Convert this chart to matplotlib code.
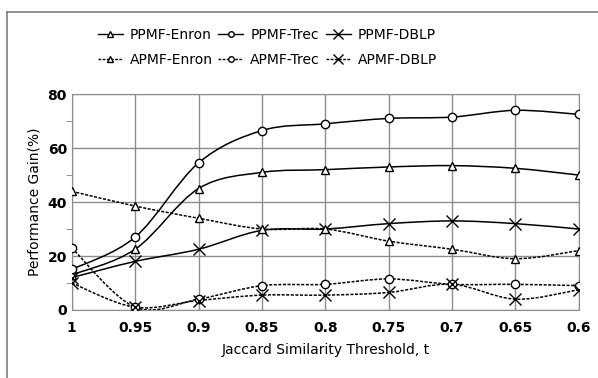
import numpy as np
import matplotlib.pyplot as plt
from matplotlib.path import Path
from matplotlib.patches import PathPatch
from matplotlib.lines import Line2D

thresholds = ['1', '0.95', '0.9', '0.85', '0.8', '0.75', '0.7', '0.65', '0.6']
ppmf_enron = [13, 22.5, 45, 51, 52, 53, 53.5, 52.5, 50]
ppmf_trec = [15, 27, 54.5, 66.5, 69, 71, 71.5, 74, 72.5]
ppmf_dblp = [12, 18, 22.5, 29.5, 30, 32, 33, 32, 30]
apmf_enron = [44, 38.5, 34, 30, 30, 25.5, 22.5, 19, 22]
apmf_trec = [23, 1, 4, 9, 9.5, 11.5, 9.5, 9.5, 9]
apmf_dblp = [10, 1, 3.5, 5.5, 5.5, 6.5, 9.5, 4, 7.5]


def smooth_path(x, y):
    # excel-style smoothed line: cubic bezier with 1/6 tangents
    pts = np.column_stack([x, y]).astype(float)
    n = len(pts)
    verts = [pts[0]]
    codes = [Path.MOVETO]
    for i in range(n - 1):
        p0 = pts[i - 1] if i > 0 else pts[i]
        p1 = pts[i]
        p2 = pts[i + 1]
        p3 = pts[i + 2] if i + 2 < n else pts[i + 1]
        c1 = p1 + (p2 - p0) / 6
        c2 = p2 - (p3 - p1) / 6
        verts += [c1, c2, p2]
        codes += [Path.CURVE4] * 3
    return Path(verts, codes)


fig = plt.figure(figsize=(5.98, 3.78), dpi=100)
# outer frame (only top and left visible in the crop)
fig.add_artist(Line2D([7 / 598, 1.0], [1 - 12 / 378] * 2, transform=fig.transFigure,
                      color='#7f7f7f', linewidth=1.2))
fig.add_artist(Line2D([7 / 598] * 2, [0, 1 - 12 / 378], transform=fig.transFigure,
                      color='#7f7f7f', linewidth=1.2))
ax = fig.add_axes([0.12, 0.18, 0.848, 0.571])

x = np.arange(len(thresholds))
dash = (0, (2, 1))
series = [
    (ppmf_enron, '^', '-', 'PPMF-Enron'),
    (ppmf_trec, 'o', '-', 'PPMF-Trec'),
    (ppmf_dblp, 'x', '-', 'PPMF-DBLP'),
    (apmf_enron, '^', dash, 'APMF-Enron'),
    (apmf_trec, 'o', dash, 'APMF-Trec'),
    (apmf_dblp, 'x', dash, 'APMF-DBLP'),
]
handles = []
for y, m, ls, lab in series:
    ax.add_patch(PathPatch(smooth_path(x, y), fill=False, edgecolor='black',
                           linewidth=1.1, linestyle=ls, zorder=3))
    ms = 9 if m == 'x' else 6
    ax.plot(x, y, linestyle='none', marker=m, markersize=ms, markerfacecolor='white',
            markeredgecolor='black', markeredgewidth=1.0, zorder=4)
    handles.append(Line2D([], [], color='black', linestyle=ls, linewidth=1.0, marker=m,
                          markersize=ms - 2, markerfacecolor='white', markeredgecolor='black',
                          label=lab))

ax.set_xlim(0, len(thresholds) - 1)
ax.set_ylim(0, 80)
ax.set_xticks(x)
ax.set_xticklabels(thresholds, fontweight='bold', fontsize=10)
ax.set_yticks([0, 20, 40, 60, 80])
ax.set_yticks([10, 30, 50, 70], minor=True)
ax.tick_params(axis='y', labelsize=10, length=0)
ax.tick_params(axis='y', which='minor', length=4, color='#7f7f7f')
ax.tick_params(axis='x', length=0, pad=8)
for t in ax.get_yticklabels():
    t.set_fontweight('bold')
ax.grid(True, color='#8c8c8c', linewidth=1.0)
ax.set_axisbelow(True)
for s in ax.spines.values():
    s.set_color('#8c8c8c')
ax.set_ylabel('Performance Gain(%)', fontsize=10)
ax.set_xlabel('Jaccard Similarity Threshold, t', fontsize=10, labelpad=6)

# legend fills column-wise: reorder so rows are PPMF / APMF
order = [0, 3, 1, 4, 2, 5]
fig.legend(handles=[handles[i] for i in order], ncol=3, loc='center',
           bbox_to_anchor=(0.447, 0.875), frameon=False, fontsize=10,
           handlelength=1.8, columnspacing=0.4, handletextpad=0.5, labelspacing=0.8)

fig.savefig('out.png', dpi=100)
